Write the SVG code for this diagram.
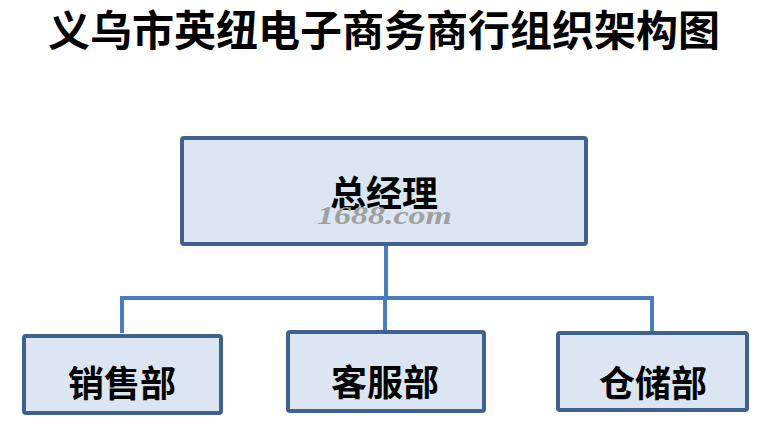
<svg xmlns="http://www.w3.org/2000/svg" width="770" height="428" viewBox="0 0 770 428">
<style>
.box{fill:#dce6f2;stroke:#3e6190;stroke-width:4}
.lbl{font-family:"Noto Sans CJK SC","Noto Sans",sans-serif;font-weight:bold;font-size:36px;fill:#000;text-anchor:middle}
.title{font-family:"Noto Sans CJK SC","Noto Sans",sans-serif;font-weight:bold;font-size:42px;fill:#000;text-anchor:middle}
.conn{fill:none;stroke:#4a7ebb;stroke-width:4}
.wm{font-family:"Liberation Serif",serif;font-style:italic;font-weight:bold;font-size:25px;fill:#a0a0a0}
</style>
<rect width="770" height="428" fill="#fff"/>
<text class="title" x="384" y="46">义乌市英纽电子商务商行组织架构图</text>
<g id="connectors">
<path class="conn" d="M386 245 V298 M122 333 V298 H652 V332 M385 298 V330"/>
</g>
<g id="n-gm">
<rect class="box" x="182" y="138" width="404" height="106" rx="2"/>
<text class="lbl" x="384" y="207">总经理</text>
<text class="wm" x="317" y="224" textLength="135" lengthAdjust="spacingAndGlyphs">1688.com</text>
</g>
<g id="n-sales">
<rect class="box" x="24" y="336" width="197" height="77" rx="2"/>
<text class="lbl" x="122" y="397">销售部</text>
</g>
<g id="n-cs">
<rect class="box" x="288" y="332" width="196" height="79" rx="2"/>
<text class="lbl" x="385" y="396">客服部</text>
</g>
<g id="n-wh">
<rect class="box" x="558" y="333" width="189" height="77" rx="2"/>
<text class="lbl" x="653" y="397">仓储部</text>
</g>
</svg>
